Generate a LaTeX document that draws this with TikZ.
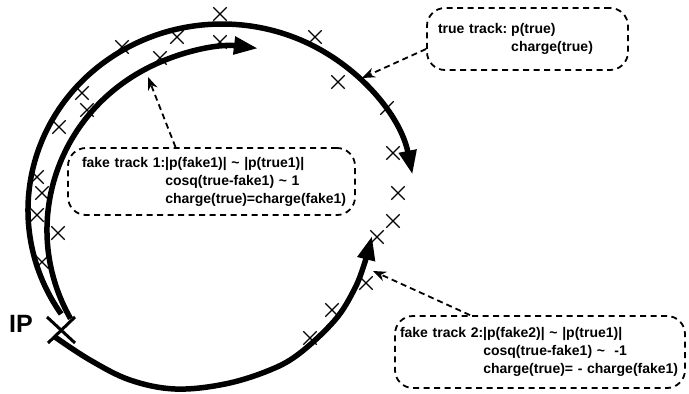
\documentclass[tikz,border=0pt]{standalone}
\usepackage{fontspec}
\setmainfont{Liberation Sans}
\usepackage{tikz}
\usetikzlibrary{arrows.meta, positioning, shapes.misc}
\tikzstyle{caja} = [draw=black, line width=1.8pt,
dash pattern=on 6pt off 4.5pt,
rounded corners=18pt,
align=left, inner ysep=0pt,
font=\bfseries\fontsize{14}{18}\selectfont]
\tikzstyle{flecha} = [line width=1.8pt, dash pattern=on 6pt off 4pt, -{Stealth[length=13pt,width=10pt]}]

\begin{document}
\begin{tikzpicture}[x=1pt, y=1pt,
        % Estilo para las trazas
        traza/.style={line width=5.5pt, -{Triangle[length=24pt,width=17pt]}},
        impacto/.style={cross out, draw, line width=1.3pt, minimum size=12pt, inner sep=0pt},
    ]
        \useasboundingbox (0,0) rectangle (689,-394);

        % 1. Traza verdadera (exterior)
        \draw[traza] ([shift={(214:194 and 186)}]222,-210) arc[start angle=214, end angle=11, x radius=194, y radius=186];

        % 2. Traza falsa 1 (interior, misma carga)
        \draw[traza] ([shift={(209:188 and 183)}]235,-230) arc[start angle=209, end angle=83, x radius=188, y radius=183];

        % 3. Traza falsa 2 (carga opuesta)
        \draw[traza] plot[smooth, tension=0.6] coordinates {(55,-337) (90,-360) (130,-380) (175,-389) (225,-384) (270,-370) (300,-353) (335,-320) (354,-290) (364,-265) (372,-236)};

        % 4. Impactos en el detector
        \foreach \x/\y [count=\n] in {220/14, 177/37, 122/47, 220/42, 160/58, 315/37, 338/82, 387/108,
                393/153, 398/193, 393/221, 377/237, 366/283, 332/310, 310/338,
                82/93, 87/110, 59/127, 37/177, 42/193, 37/215, 58/233, 42/262}
            \node[impacto] (hit\n) at (\x,-\y) {};

        % Punto de interaccion
        \draw[line width=3pt] (47,-317) -- (75,-343);
        \draw[line width=3pt] (48,-343) -- (75,-317);
        \node (ip) [font=\bfseries\fontsize{25}{25}\selectfont] at (21,-324) {IP};

        % 5. Cajas explicativas
        \node (truebox) [caja, minimum width=201, minimum height=62, text width=179, inner xsep=11] at (527.5,-39)
            {\begin{tabular}{@{}l@{\hspace{4pt}}l@{}}
            true track: & p(true)\\
             & charge(true)
            \end{tabular}};

        \node (fakeonebox) [caja, minimum width=287, minimum height=67, text width=259, inner xsep=14] at (211.5,-181.5)
            {\begin{tabular}{@{}l@{}l@{}}
            fake track 1: & |p(fake1)| \textasciitilde{} |p(true1)|\\
             & cosq(true-fake1) \textasciitilde{} 1\\
             & charge(true)=charge(fake1)
            \end{tabular}};

        \node (faketwobox) [caja, minimum width=290, minimum height=72, text width=280, inner xsep=5] at (540,-352)
            {\begin{tabular}{@{}l@{}l@{}}
            fake track 2: & |p(fake2)| \textasciitilde{} |p(true1)|\\
             & cosq(true-fake1) \textasciitilde{}\ \ -1\\
             & charge(true)= - charge(fake1)
            \end{tabular}};

        % 6. Flechas hacia las trazas
        \coordinate (ptrue) at (362,-78);
        \coordinate (pfakeone) at (148,-77);
        \coordinate (pfaketwo) at (373,-271);
        \draw[flecha] ([yshift=-10pt]truebox.west) -- (ptrue);
        \draw[flecha] ([xshift=-36pt]fakeonebox.north) -- (pfakeone);
        \draw[flecha] ([xshift=-70pt]faketwobox.north) -- (pfaketwo);

    \end{tikzpicture}
\end{document}
